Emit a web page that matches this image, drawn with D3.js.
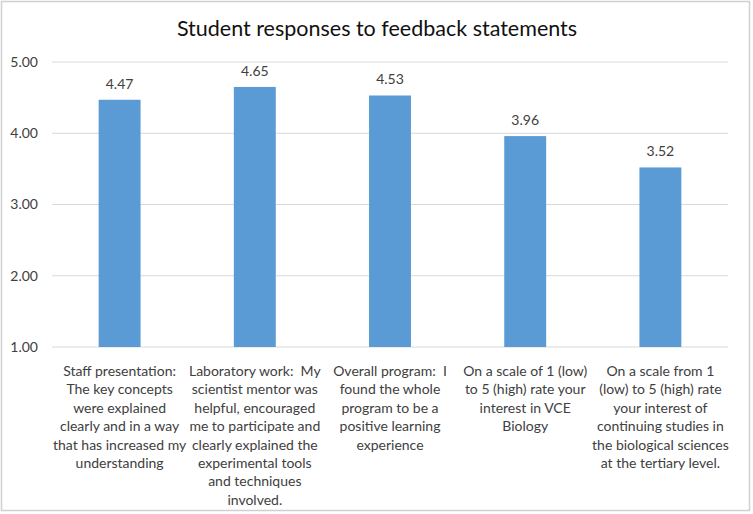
<!DOCTYPE html>
<html>
<head>
<meta charset="utf-8">
<script src="https://cdn.jsdelivr.net/npm/d3@7"></script>
<style>
  body { margin: 0; background: #fff; }
  text { font-family: Lato, "Open Sans", sans-serif; fill: #404040; }
</style>
</head>
<body>
<script>
// Chart data
const title = "Student responses to feedback statements";
const categories = [
  ["Staff presentation:", "The key concepts", "were explained", "clearly and in a way", "that has increased my", "understanding"],
  ["Laboratory work:  My", "scientist mentor was", "helpful, encouraged", "me to participate and", "clearly explained the", "experimental tools", "and techniques", "involved."],
  ["Overall program:  I", "found the whole", "program to be a", "positive learning", "experience"],
  ["On a scale of 1 (low)", "to 5 (high) rate your", "interest in VCE", "Biology"],
  ["On a scale from 1", "(low) to 5 (high) rate", "your interest of", "continuing studies in", "the biological sciences", "at the tertiary level."]
];
const values = [4.47, 4.65, 4.53, 3.96, 3.52];
const yTicks = [1, 2, 3, 4, 5];

const W = 753, H = 514;
const margin = {top: 62, right: 25, bottom: 167, left: 52};
const width = W - margin.left - margin.right,
      height = H - margin.top - margin.bottom;

const svg = d3.select("body").append("svg")
  .attr("width", W)
  .attr("height", H);

// outer frame
svg.append("rect")
  .attr("x", 1.5).attr("y", 1.5)
  .attr("width", W - 5).attr("height", H - 5)
  .attr("fill", "#fff")
  .attr("stroke", "#d0d0d0")
  .attr("stroke-width", 1.5);

svg.append("text")
  .attr("x", 377).attr("y", 36)
  .attr("text-anchor", "middle")
  .attr("font-size", 21.5)
  .style("fill", "#111")
  .text(title);

const g = svg.append("g")
  .attr("transform", `translate(${margin.left},${margin.top})`);

const x = d3.scaleBand()
  .domain(d3.range(values.length))
  .range([0, width])
  .paddingInner(0.69)
  .paddingOuter(0.345);

const y = d3.scaleLinear()
  .domain([1, 5])
  .range([height, 0]);

// gridlines
g.append("g")
  .selectAll("line")
  .data(yTicks)
  .join("line")
  .attr("x1", 0).attr("x2", width)
  .attr("y1", d => y(d)).attr("y2", d => y(d))
  .attr("stroke", "#d9d9d9")
  .attr("stroke-width", 1);

// y axis labels
const yAxis = g.append("g")
  .call(d3.axisLeft(y).tickValues(yTicks).tickFormat(d3.format(".2f")).tickSize(0).tickPadding(14));
yAxis.select(".domain").remove();
yAxis.selectAll("text").attr("font-size", 14).style("font-family", "Lato, 'Open Sans', sans-serif").style("fill", "#404040");

// bars
g.selectAll("rect.bar")
  .data(values)
  .join("rect")
  .attr("class", "bar")
  .attr("x", (d, i) => x(i))
  .attr("width", x.bandwidth())
  .attr("y", d => y(d))
  .attr("height", d => y(1) - y(d))
  .attr("fill", "#5b9bd5");

// value labels
g.selectAll("text.val")
  .data(values)
  .join("text")
  .attr("class", "val")
  .attr("x", (d, i) => x(i) + x.bandwidth() / 2)
  .attr("y", d => y(d) - 11)
  .attr("text-anchor", "middle")
  .attr("font-size", 14)
  .text(d => d.toFixed(2));

// category labels
const cat = g.selectAll("text.cat")
  .data(categories)
  .join("text")
  .attr("class", "cat")
  .attr("text-anchor", "middle")
  .attr("font-size", 14)
  .style("white-space", "pre")
  .attr("transform", (d, i) => `translate(${x(i) + x.bandwidth() / 2},${height + 29})`);

cat.selectAll("tspan")
  .data(d => d)
  .join("tspan")
  .attr("x", 0)
  .attr("y", (d, i) => i * 18.4)
  .text(d => d);
</script>
</body>
</html>
